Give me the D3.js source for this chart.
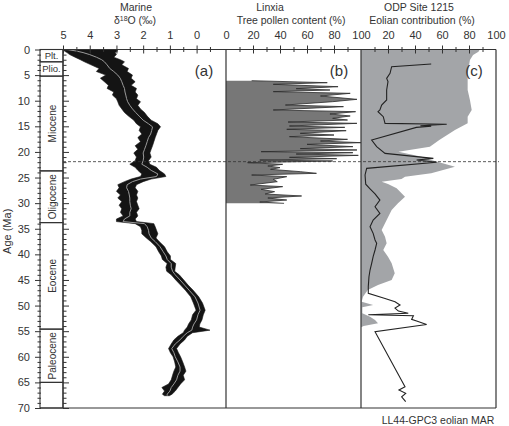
<!DOCTYPE html>
<html lang="en">
<head>
<meta charset="UTF-8">
<title>Cenozoic records</title>
<script src="https://cdn.jsdelivr.net/npm/d3@7"></script>
<style>
  body { margin: 0; background: #fff; }
  svg text { font-family: "Liberation Sans", Arial, sans-serif; fill: #333; }
  .axis path, .axis line { stroke: #333; }
</style>
</head>
<body>
<div id="chart"></div>
<script>
// epochs (Ma)
const epochNames = ["Plt.", "Plio.", "Miocene", "Oligocene", "Eocene", "Paleocene", ""];
const epochTop   = [0, 2.4, 5.2, 23.7, 33.8, 54.6, 65];
const epochBase  = [2.4, 5.2, 23.7, 33.8, 54.6, 65, 70];

// (a) marine d18O: scatter envelope + smoothed curve
const isoAge  = [0,0.3,0.6,1,1.5,2,2.4,3,3.7,4.3,5,5.6,6.3,7,7.6,8.3,8.9,9.6,10.2,10.9,11.6,12.3,13,13.8,14.5,15.1,15.8,16.5,17.2,18,18.8,19.5,20.2,21,21.7,22.4,23,23.6,24.3,24.8,25.3,25.8,26.4,27,27.7,28.4,29,29.7,30.4,31.1,31.8,32.5,33.1,33.6,34,34.6,35.3,36,36.8,37.5,38.5,39.5,40.3,41,41.8,42.5,43.3,44,45,46,47,48.3,49.5,50.9,51.8,52.8,53.6,54.2,54.8,55.3,56,56.7,57.5,58.4,59.2,60,61,62,62.8,63.6,64.5,65.3,66,66.7,67.3,67.6];
const isoHigh = [5,4.95,4.85,4.75,4.55,4.35,4.2,3.95,3.65,3.75,3.4,3.6,3.45,3.3,3.35,3.1,3.15,3,2.95,2.9,2.8,2.7,2.55,2.35,2.25,2.1,2.15,2.05,2.2,2.1,2.3,2.2,2.35,2.25,2.3,2.5,2.3,2.2,2.05,2.1,2.45,2.7,2.95,2.9,3,2.85,2.95,2.8,2.9,2.8,2.85,2.75,3,3,2.3,2.1,2.05,2.05,1.88,1.72,1.52,1.42,1.32,1.28,1.1,1.15,1.12,0.95,0.78,0.6,0.42,0.22,0.12,0.02,0.15,0.2,0.3,0.35,0.45,0.5,0.7,0.85,0.95,1.05,0.98,0.88,0.82,0.78,0.85,0.9,0.95,1.05,1.3,1.2,1.28,1.2];
const isoLow  = [3,2.95,3.05,3,3.1,2.85,2.7,2.8,2.55,2.6,2.4,2.45,2.3,2.45,2.25,2.3,2.2,2.25,2.1,2.2,2.1,1.95,1.85,1.7,1.45,1.35,1.45,1.5,1.55,1.6,1.65,1.7,1.75,1.7,1.8,1.75,1.5,1.4,1.2,1.15,1.7,2,2.25,2.3,2.2,2.25,2.2,2.25,2.2,2.15,2.25,2.2,2.3,2.25,1.6,1.55,1.5,1.45,1.52,1.4,1.2,1.1,0.98,0.98,0.78,0.8,0.82,0.65,0.48,0.32,0.13,-0.08,-0.22,-0.32,-0.25,-0.2,-0.12,-0.1,-0.5,0.15,0.35,0.45,0.62,0.75,0.68,0.6,0.52,0.45,0.4,0.5,0.45,0.6,0.7,0.8,0.92,1.02];
const isoMean = [4.85,4.5,4.25,4,3.75,3.55,3.45,3.35,3.25,3.1,2.95,2.86,2.8,2.75,2.7,2.68,2.65,2.62,2.58,2.5,2.4,2.28,2.15,2,1.8,1.65,1.68,1.72,1.8,1.85,1.9,1.95,2,1.98,2,2.05,1.85,1.7,1.45,1.5,2.1,2.4,2.6,2.62,2.55,2.52,2.5,2.5,2.48,2.45,2.5,2.5,2.7,2.75,1.95,1.85,1.8,1.78,1.7,1.55,1.37,1.25,1.15,1.1,0.95,0.95,0.9,0.8,0.62,0.45,0.28,0.06,-0.05,-0.13,-0.05,0,0.1,0.15,0.18,0.35,0.5,0.62,0.8,0.93,0.85,0.8,0.7,0.62,0.62,0.7,0.75,0.85,0.95,1,1.1,1.1];

// (b) Linxia tree pollen (%)
const pollenAge = [6.09,6.48,6.8,7.26,7.65,7.91,8.23,8.56,9.08,9.73,10.19,10.84,11.16,11.81,12.14,12.59,12.98,13.44,13.77,14.16,14.42,14.94,15.2,15.59,15.85,16.37,16.7,17.02,17.54,17.87,18.19,18.52,18.97,19.36,19.62,19.95,20.15,20.41,20.67,21.06,21.32,21.58,21.77,22.1,22.42,22.75,23.07,23.4,23.85,24.18,24.51,24.83,25.35,25.81,26.46,26.78,27.3,27.76,28.21,28.6,29,29.39,29.78,30.04];
const pollenVal = [19,75,35,83,52,77,35,92,70,97,79,44,87,35,96,77,92,79,90,46,97,47,88,45,89,55,80,47,90,70,100,60,94,55,97,26,94,52,98,47,82,25,79,16,42,31,40,33,55,67,19,45,35,38,18,42,26,36,29,56,31,45,25,43];

// (c) ODP 1215 eolian contribution (%)
const eolAge = [0,0.42,1.07,2.05,4.65,7.91,9.86,11.81,13.12,14.42,15.72,17.67,18.97,19.95,20.93,21.58,22.88,24.18,24.83,25.3,25.81,26.27,27.11,28.74,30.04,31.34,33.29,35.25,36.55,37.85,39.15,40.46,41.76,43.71,45.01,45.99,46.96,48.26,49.24,49.89,50.35,51.52,52.17,52.82,53.47,54,54.25];
const eolVal = [88,87,83,80.7,79,79,80.7,82,79,79,69.6,58,51,27.7,45,52,69.6,52,32.6,30,15.3,20,26.4,32.6,27.4,22.7,19,15.3,17.8,19,16.5,20,22.7,25,22.7,12.6,5,1.5,0.5,9,1,1,6.7,10.4,12.6,2,0];

// LL44-GPC3 eolian MAR
const marAge = [2.83,3.35,4.65,5.63,6.28,7.91,9.86,10.84,11.81,12.14,13.12,14.42,14.6,14.9,15,15.2,17.67,18.97,20.28,21.26,21.58,22.03,23.21,24.5,26.3,27.2,28.2,29.4,30.7,32,33.3,34.6,35.9,37.2,37.85,39.15,40.46,41.76,43.06,44.37,46.3,47.6,48.6,49.25,49.9,50.5,51.07,51.5,51.8,52,52.7,53,53.7,55.1,65.84,66.49,67.14,67.8,68.77];
const marVal = [52,22.7,21.5,19,20,19,19,15.3,14,12.6,16.5,17.8,63.5,44,52,41,7.9,11.6,17.8,53.6,41.2,56,4.2,3,3.5,6.7,10.4,14,10.4,14,9,6.7,9,10.4,11.6,10.4,9,7.9,6.7,5.9,5.4,5.4,17.8,25.2,28.9,25.2,27.7,35,5.4,38.8,37.5,41.2,48.6,10.4,32.6,28.1,33.1,30.1,33.1];

const dashedAge = 21.9;

const W = 509, H = 426;
const svg = d3.select("#chart").append("svg").attr("width", W).attr("height", H);

const y  = d3.scaleLinear().domain([0, 70]).range([49.5, 408]);
const xA = d3.scaleLinear().domain([5, -1.1]).range([63, 226]);
const xB = d3.scaleLinear().domain([0, 100]).range([226, 361]);
const xC = d3.scaleLinear().domain([0, 100]).range([361, 496]);

// ---- data marks ----
const iso = isoAge.map((a, i) => ({ a, hi: isoHigh[i], lo: isoLow[i], m: isoMean[i] }));
svg.append("path").datum(iso)
  .attr("d", d3.area().y(d => y(d.a)).x0(d => xA(d.hi)).x1(d => xA(d.lo)))
  .attr("fill", "#141414").attr("stroke", "#141414").attr("stroke-width", 0.6);
svg.append("path").datum(iso)
  .attr("d", d3.line().y(d => y(d.a)).x(d => xA(d.m)))
  .attr("fill", "none").attr("stroke", "#9a9a9a").attr("stroke-width", 1);

const pol = pollenAge.map((a, i) => ({ a, v: pollenVal[i] }));
svg.append("path").datum(pol)
  .attr("d", d3.area().y(d => y(d.a)).x0(xB(0)).x1(d => xB(d.v)))
  .attr("fill", "#777");
svg.append("path").datum(pol)
  .attr("d", d3.line().y(d => y(d.a)).x(d => xB(d.v)))
  .attr("fill", "none").attr("stroke", "#2a2a2a").attr("stroke-width", 0.8);

const eol = eolAge.map((a, i) => ({ a, v: eolVal[i] }));
svg.append("path").datum(eol)
  .attr("d", d3.area().y(d => y(d.a)).x0(xC(0)).x1(d => xC(d.v)))
  .attr("fill", "#a3a5a8");

const mar = marAge.map((a, i) => ({ a, v: marVal[i] }));
svg.append("path").datum(mar)
  .attr("d", d3.line().y(d => y(d.a)).x(d => xC(d.v)))
  .attr("fill", "none").attr("stroke", "#222").attr("stroke-width", 1.1);

// ---- epoch column ----
const ep = epochNames.map((n, i) => ({ n, t: epochTop[i], b: epochBase[i] }));
svg.selectAll(".ep").data(ep).enter().append("rect")
  .attr("x", 40).attr("width", 23)
  .attr("y", d => y(d.t)).attr("height", d => y(d.b) - y(d.t))
  .attr("fill", "none").attr("stroke", "#333").attr("stroke-width", 1.1);
svg.selectAll(".eplab").data(ep.filter(d => d.n)).enter().append("text")
  .attr("font-size", d => d.n.length > 5 ? 10 : 9.5)
  .attr("text-anchor", "middle")
  .attr("dominant-baseline", "central")
  .attr("transform", d => {
    const cy = y((d.t + d.b) / 2);
    return d.n.length > 5 ? `translate(52,${cy}) rotate(-90)` : `translate(51.5,${cy})`;
  })
  .text(d => d.n);

// ---- frame ----
const frame = svg.append("g").attr("stroke", "#333").attr("stroke-width", 1.2);
[63, 226, 361, 496].forEach(x => frame.append("line")
  .attr("x1", x).attr("x2", x).attr("y1", y(0)).attr("y2", y(70)));
frame.append("line").attr("x1", 40).attr("x2", 496).attr("y1", y(70)).attr("y2", y(70));

// dashed reference line
svg.append("line")
  .attr("x1", 63).attr("x2", 499).attr("y1", y(dashedAge)).attr("y2", y(dashedAge))
  .attr("stroke", "#333").attr("stroke-width", 0.8).attr("stroke-dasharray", "3,2");

// ---- age axis ----
const majorAges = d3.range(0, 71, 5);
const minorAges = d3.range(0, 71, 1).filter(v => v % 5);
function ageAxis(axisFn, x, size, vals, labels) {
  const g = svg.append("g").attr("class", "axis").attr("transform", `translate(${x},0)`)
    .call(axisFn(y).tickValues(vals).tickSize(size).tickSizeOuter(0)
      .tickFormat(labels ? d3.format("d") : ""));
  g.select(".domain").remove();
  g.selectAll("line").attr("stroke-width", 1);
  return g;
}
ageAxis(d3.axisLeft, 41, 6, majorAges, true)
  .selectAll("text").attr("font-size", 11).attr("x", -11);
ageAxis(d3.axisLeft, 41, 3.5, minorAges, false);
ageAxis(d3.axisRight, 63, 6, majorAges, false);
ageAxis(d3.axisRight, 63, 3.5, minorAges, false);

svg.append("text")
  .attr("transform", `translate(11,${y(35.5)}) rotate(-90)`)
  .attr("text-anchor", "middle").attr("font-size", 11)
  .text("Age (Ma)");

// ---- top axes ----
svg.append("line").attr("x1", 40).attr("x2", 496).attr("y1", y(0)).attr("y2", y(0))
  .attr("stroke", "#333").attr("stroke-width", 1.2);

function topTicks(scale, majors, minors, labels) {
  [[majors, 4], [minors, 2.5]].forEach(([vals, s]) => {
    ["axisTop", "axisBottom"].forEach(fn => {
      const g = svg.append("g").attr("class", "axis").attr("transform", `translate(0,${y(0)})`)
        .call(d3[fn](scale).tickValues(vals).tickSize(s).tickSizeOuter(0).tickFormat(""));
      g.select(".domain").remove();
      g.selectAll("line").attr("stroke-width", 1);
    });
  });
  const g = svg.append("g").attr("class", "axis").attr("transform", `translate(0,${y(0)})`)
    .call(d3.axisTop(scale).tickValues(labels).tickSize(0).tickPadding(11).tickFormat(d3.format("d")));
  g.select(".domain").remove();
  g.selectAll("text").attr("font-size", 11);
}
topTicks(xA, [5, 4, 3, 2, 1, 0], [4.5, 3.5, 2.5, 1.5, 0.5, -0.5], [5, 4, 3, 2, 1, 0]);
topTicks(xB, [20, 40, 60, 80], [10, 30, 50, 70, 90], [0, 20, 40, 60, 80, 100]);
topTicks(xC, [20, 40, 60, 80], [10, 30, 50, 70, 90], [20, 40, 60, 80, 100]);

// ---- titles ----
function title(x, yy, txt) {
  return svg.append("text").attr("x", x).attr("y", yy)
    .attr("text-anchor", "middle").attr("font-size", 10.5).text(txt);
}
title(136, 11, "Marine");
const iso18 = svg.append("text").attr("x", 135).attr("y", 24)
  .attr("text-anchor", "middle").attr("font-size", 10.5);
iso18.append("tspan").text("δ");
iso18.append("tspan").attr("font-size", 7).attr("dy", -3.5).text("18");
iso18.append("tspan").attr("dy", 3.5).text("O (‰)");
title(270, 11, "Linxia");
title(291, 24, "Tree pollen content (%)");
title(419, 11, "ODP Site 1215");
title(422, 24, "Eolian contribution (%)");
title(438, 424, "LL44-GPC3 eolian MAR");

// panel letters
[["(a)", 204], ["(b)", 339], ["(c)", 474]].forEach(([t, x]) =>
  svg.append("text").attr("x", x).attr("y", 76).attr("text-anchor", "middle")
    .attr("font-size", 15).text(t));
</script>
</body>
</html>
